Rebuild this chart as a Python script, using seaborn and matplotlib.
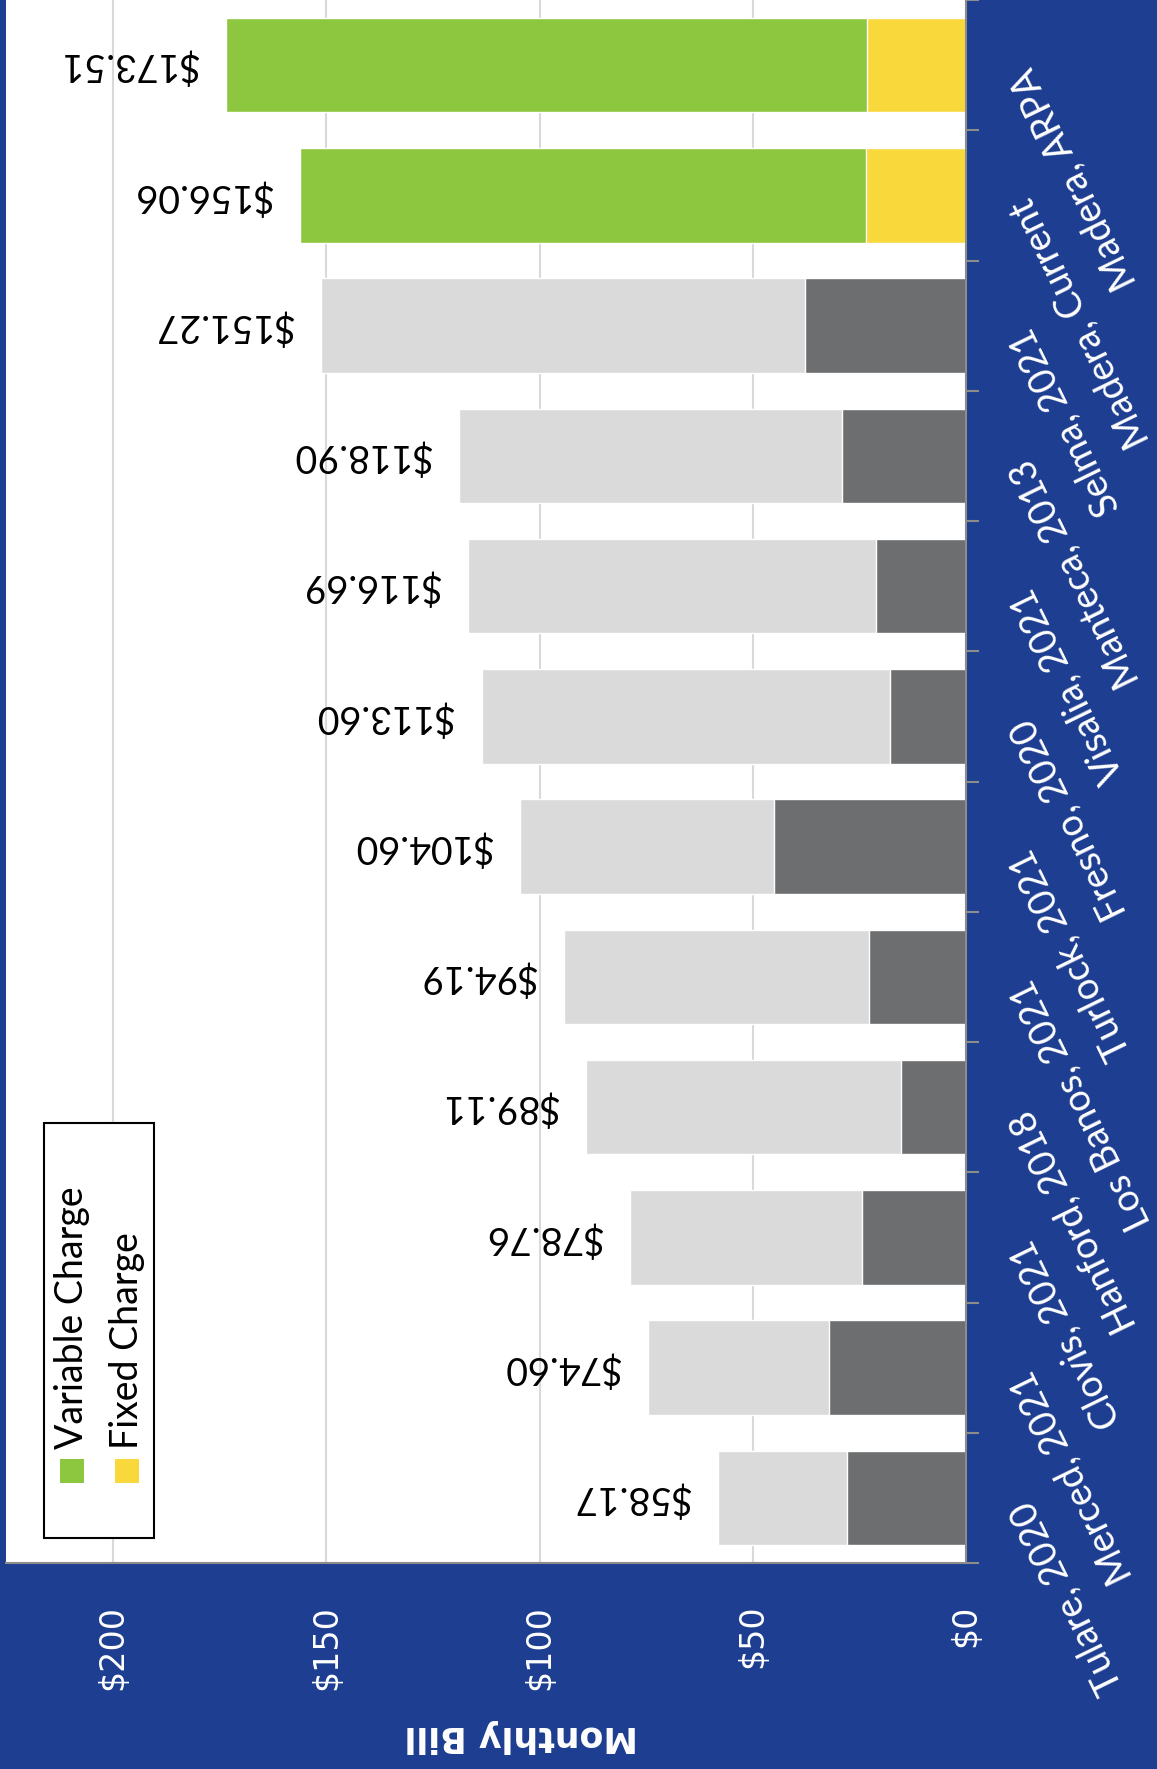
import matplotlib
matplotlib.use("Agg")
import matplotlib.pyplot as plt
import pandas as pd
import seaborn as sns
from matplotlib.patches import Rectangle

# Data (bottom to top in the picture)
cities = ["Tulare, 2020", "Merced, 2021", "Clovis, 2021", "Hanford, 2018",
          "Los Banos, 2021", "Turlock, 2021", "Fresno, 2020", "Visalia, 2021",
          "Manteca, 2013", "Selma, 2021", "Madera, Current", "Madera, ARPA"]
totals = [58.17, 74.60, 78.76, 89.11, 94.19, 104.60, 113.60, 116.69,
          118.90, 151.27, 156.06, 173.51]
fixed = [27.9, 32.1, 24.4, 15.2, 22.8, 45.1, 17.8, 21.2, 29.1, 37.7, 23.5, 23.1]
highlight = [False] * 10 + [True] * 2
value_ticks = [0, 50, 100, 150, 200]

BLUE = "#1E3F91"
GREEN = "#8DC63F"
YELLOW = "#F9D83C"
LIGHT = "#DADADA"
DARK = "#6D6E70"
AXIS_GRAY = "#8C8C8C"

sns.set_style("white")
plt.rcParams["font.family"] = ["Lato", "DejaVu Sans"]

df = pd.DataFrame({"city": cities, "total": totals, "fixed": fixed})
order = cities[::-1]  # seaborn puts the first category at the top
var_pal = {c: (GREEN if h else LIGHT) for c, h in zip(cities, highlight)}
fix_pal = {c: (YELLOW if h else DARK) for c, h in zip(cities, highlight)}

W, H = 1157, 1769
fig = plt.figure(figsize=(W / 100, H / 100), dpi=100, facecolor=BLUE)
ax = fig.add_axes([6 / W, 1 - 1563 / H, 960 / W, 1563 / H])
ax.set_facecolor("white")

sns.barplot(data=df, x="total", y="city", hue="city", order=order, hue_order=order,
            palette=var_pal, width=0.724, orient="h", legend=False,
            errorbar=None, saturation=1, ax=ax)
sns.barplot(data=df, x="fixed", y="city", hue="city", order=order, hue_order=order,
            palette=fix_pal, width=0.724, orient="h", legend=False,
            errorbar=None, saturation=1, ax=ax)

# value labels, upside down like the source
for c, t in zip(cities, totals):
    ax.text(t + 6.6, order.index(c), f"${t:.2f}", rotation=180, rotation_mode="anchor",
            ha="left", va="center", fontsize=27, color="black")

ax.set_xlim(225.1, 0)
ax.set_ylim(11.5, -0.479)

ax.grid(axis="x", color="#D9D9D9", linewidth=1.5)
ax.grid(axis="y", visible=False)
ax.set_axisbelow(True)

for s in ["top", "left"]:
    ax.spines[s].set_visible(False)
for s in ["right", "bottom"]:
    ax.spines[s].set_color(AXIS_GRAY)
    ax.spines[s].set_linewidth(1.5)

# value axis
ax.set_xticks(value_ticks)
ax.set_xticklabels([f"${v}" for v in value_ticks], rotation=90,
                   fontsize=24, color="white", family="DejaVu Sans")
ax.tick_params(axis="x", direction="out", length=10, width=1.5, color=AXIS_GRAY, pad=20)

# category axis
ax.yaxis.tick_right()
ax.set_yticks(range(len(order)))
ax.set_yticks([i + 0.5 for i in range(-1, len(order))], minor=True)
ax.set_yticklabels(order, fontsize=27, color="white")
for lab in ax.get_yticklabels():
    lab.set_rotation(116)
    lab.set_rotation_mode("anchor")
    lab.set_ha("right")
    lab.set_va("baseline")
ax.tick_params(axis="y", which="major", length=0, pad=47)
ax.tick_params(axis="y", which="minor", direction="out", length=9.5, width=1.5,
               color=AXIS_GRAY, right=True, left=False)
ax.set_ylabel("")

ax.set_xlabel("Monthly Bill", rotation=180, fontsize=25, fontweight="bold",
              color="white", family="DejaVu Sans", va="center")
ax.xaxis.set_label_coords((521 - 6) / 960, -0.111)

# legend drawn by hand (rotated text)
def fx(px):
    return px / W

def fy(py):
    return 1 - py / H

fig.patches.append(Rectangle((fx(44), fy(1538)), fx(110), (1538 - 1123) / H,
                             transform=fig.transFigure, facecolor="white",
                             edgecolor="black", linewidth=1.5, zorder=5))
for sx, tx, label, col in [(60, 72, "Variable Charge", GREEN), (115, 127, "Fixed Charge", YELLOW)]:
    fig.patches.append(Rectangle((fx(sx), fy(1483)), fx(24), 24 / H,
                                 transform=fig.transFigure, facecolor=col,
                                 edgecolor="none", zorder=6))
    fig.text(fx(tx), fy(1449), label, rotation=90, rotation_mode="anchor",
             ha="left", va="center", fontsize=27, color="black", zorder=7)

fig.savefig("out.png", dpi=100, facecolor=BLUE)
